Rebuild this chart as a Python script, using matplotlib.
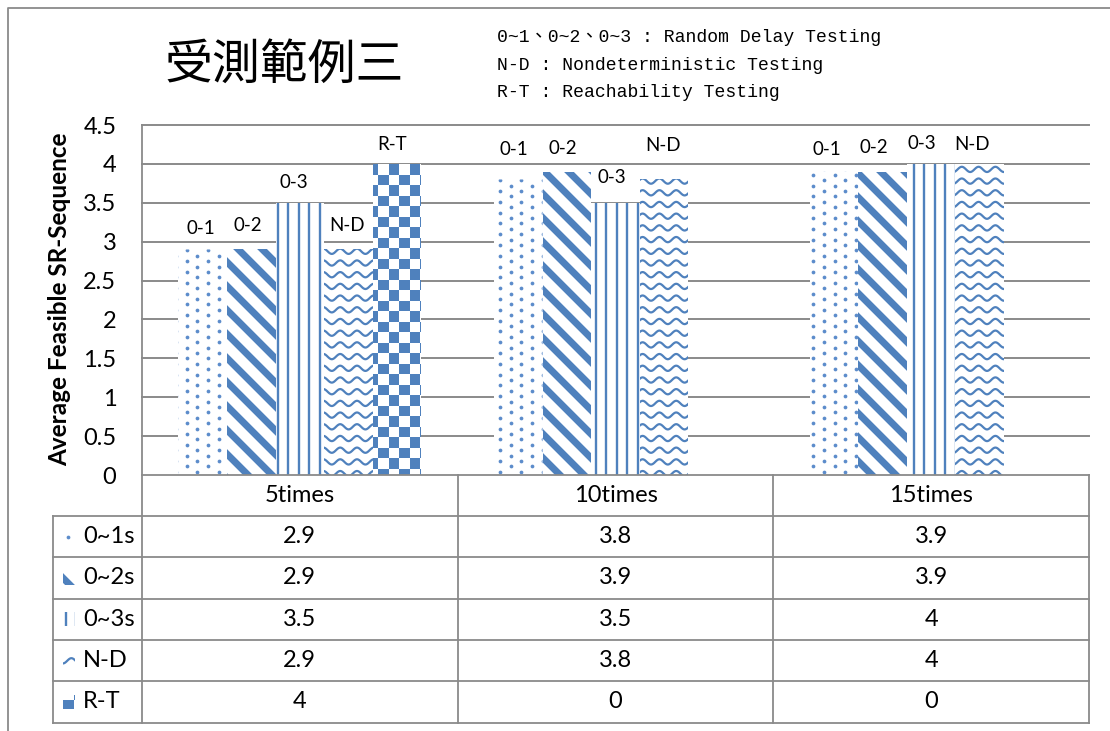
import numpy as np
import matplotlib
matplotlib.use("Agg")
import matplotlib.pyplot as plt
from matplotlib.lines import Line2D
from matplotlib.collections import LineCollection, PolyCollection
from matplotlib.patches import Rectangle
from matplotlib.transforms import Affine2D, IdentityTransform, Bbox

# ---------------- data ----------------
groups = ["5times", "10times", "15times"]
series_names = ["0~1s", "0~2s", "0~3s", "N-D", "R-T"]
bar_tags = ["0-1", "0-2", "0-3", "N-D", "R-T"]
delay_0_1 = [2.9, 3.8, 3.9]
delay_0_2 = [2.9, 3.9, 3.9]
delay_0_3 = [3.5, 3.5, 4]
nondeterministic = [2.9, 3.8, 4]
reachability = [4, 0, 0]
y_ticks = [0, 0.5, 1, 1.5, 2, 2.5, 3, 3.5, 4, 4.5]
title_text = "受測範例三"
note_lines = ["0~1、0~2、0~3 : Random Delay Testing",
              "N-D : Nondeterministic Testing",
              "R-T : Reachability Testing"]
y_label = "Average Feasible SR-Sequence"

series_values = [delay_0_1, delay_0_2, delay_0_3, nondeterministic, reachability]

# ---------------- styling ----------------
W, H = 1110, 731
BLUE = "#4F81BD"
DOT = "#5C8CCB"
GRAY = "#8A8A8A"
FONT = ["Lato", "DejaVu Sans"]
patterns = ["dots", "diag", "vlines", "wave", "checker"]
# label offsets above each bar top (pixels: dx, dy)
tag_offsets = [
    [(-2, 21), (-4, 30), (-7, 22)],
    [(-3, 24), (-4, 23), (-9, 24)],
    [(-6, 20), (-4, 25), (-9, 20)],
    [(-1, 24), (-1, 34), (-8, 19)],
    [(-5, 19), None, None],
]

plt.rcParams["font.family"] = FONT
fig = plt.figure(figsize=(W / 100, H / 100), dpi=100)
fig.patch.set_facecolor("white")

# transform: pixel coordinates measured from the top-left corner
TL = Affine2D().scale(1, -1).translate(0, H)

ax_left, ax_right, ax_top, ax_bottom = 142, 1089, 125, 475
ax = fig.add_axes([ax_left / W, (H - ax_bottom) / H,
                   (ax_right - ax_left) / W, (ax_bottom - ax_top) / H])
ax.set_xlim(0, len(groups))
ax.set_ylim(0, 4.5)
ax.set_autoscale_on(False)
for s in ax.spines.values():
    s.set_visible(False)
ax.set_xticks([])
ax.set_yticks(y_ticks)
ax.set_yticklabels([f"{t:g}" for t in y_ticks])
ax.tick_params(axis="y", length=0, pad=18.5, labelsize=17)
ax.patch.set_alpha(0)

for t in y_ticks[1:]:
    ax.axhline(t, color=GRAY, lw=1.4, zorder=0.5, clip_on=False)


def pattern_artists(kind, bb):
    x0, y0, x1, y1 = bb.x0, bb.y0, bb.x1, bb.y1
    arts = []
    if kind == "dots":
        step = 10.8
        xs, ys = [], []
        for k in range(int(np.floor(x0 / step)) - 1, int(np.ceil(x1 / step)) + 2):
            off = (k % 2) * step / 2
            for m in range(int(np.floor(y0 / step)) - 1, int(np.ceil(y1 / step)) + 2):
                xs.append(k * step + 3)
                ys.append(m * step + off)
        arts.append(Line2D(xs, ys, ls="none", marker="o", ms=2.7,
                           mfc=DOT, mec="none"))
    elif kind == "diag":
        per = 24.0
        segs = []
        c = np.floor((x0 + y0) / per) * per - per
        while c < x1 + y1 + per:
            segs.append([(c - y1 - 20, y1 + 20), (c - y0 + 20, y0 - 20)])
            c += per
        arts.append(LineCollection(segs, colors=BLUE, linewidths=5.0,
                                   capstyle="butt"))
    elif kind == "vlines":
        per = 10.6
        segs = []
        x = np.floor(x0 / per) * per + 2
        while x < x1 + per:
            segs.append([(x, y0 - 5), (x, y1 + 5)])
            x += per
        arts.append(LineCollection(segs, colors=BLUE, linewidths=1.7,
                                   capstyle="butt"))
    elif kind == "wave":
        per_x, per_y, amp = 16.8, 11.7, 2.6
        xs = np.linspace(x0 - 5, x1 + 5, 200)
        segs = []
        base = np.floor(y0 / per_y) * per_y - per_y
        while base < y1 + per_y:
            ys = base + amp * np.sin(2 * np.pi * xs / per_x)
            segs.append(np.column_stack([xs, ys]))
            base += per_y
        arts.append(LineCollection(segs, colors=BLUE, linewidths=1.6))
    elif kind == "checker":
        sq = 10.5
        polys = []
        for i in range(int(np.floor(x0 / sq)) - 1, int(np.ceil(x1 / sq)) + 1):
            for j in range(int(np.floor(y0 / sq)) - 1, int(np.ceil(y1 / sq)) + 1):
                if (i + j) % 2 == 0:
                    xa, ya = i * sq, j * sq
                    polys.append([(xa, ya), (xa + sq, ya), (xa + sq, ya + sq), (xa, ya + sq)])
        arts.append(PolyCollection(polys, facecolors=BLUE, edgecolors="none"))
    return arts


# ---------------- bars ----------------
n_series = len(series_values)
bar_w = 0.154
centers = np.arange(len(groups)) + 0.5
for i, vals in enumerate(series_values):
    xpos = centers + (i - (n_series - 1) / 2) * bar_w
    bars = ax.bar(xpos, vals, width=bar_w, facecolor="white",
                  edgecolor="none", zorder=2)
    for g, rect in enumerate(bars):
        if vals[g] <= 0:
            continue
        bb = rect.get_window_extent()
        for art in pattern_artists(patterns[i], bb):
            art.set_transform(IdentityTransform())
            art.set_zorder(3)
            ax.add_artist(art)
            art.set_clip_path(rect.get_path(), rect.get_transform())
        off = tag_offsets[i][g]
        if off is not None:
            ax.annotate(bar_tags[i], xy=(xpos[g], vals[g]), xytext=off,
                        textcoords="offset pixels", ha="center", va="center",
                        fontsize=13.5, zorder=5)

# ---------------- titles ----------------
fig.text(284, 65, title_text, transform=TL, ha="center", va="center",
         fontsize=34.5, family=["Noto Sans CJK TC", "DejaVu Sans"])
for k, line in enumerate(note_lines):
    fig.text(497, 42 + 27.5 * k, line, transform=TL, ha="left", va="baseline",
             fontsize=13.1, family=["Liberation Mono", "Noto Sans CJK TC"])
fig.text(60, 299, y_label, transform=TL, rotation=90, ha="center", va="center",
         fontsize=17.5, fontweight="bold")

# ---------------- outer frame ----------------
fig.add_artist(Line2D([8, 8, W + 5], [H + 5, 8, 8], transform=TL,
                      color=GRAY, lw=1.3))

# ---------------- data table ----------------
col_x = [ax_left, 457.7, 773.3, ax_right]
row_y = [475, 516, 557.3, 598.6, 640, 681.3, 722.6]
lab_left = 52.5
lw_t = 1.3


def tline(xs, ys):
    fig.add_artist(Line2D(xs, ys, transform=TL, color=GRAY, lw=lw_t,
                          solid_capstyle="projecting"))


tline([ax_left, ax_left], [ax_top, row_y[-1]])
tline([ax_left, ax_right], [row_y[0], row_y[0]])
for y in row_y[1:]:
    tline([lab_left, ax_right], [y, y])
tline([lab_left, lab_left], [row_y[1], row_y[-1]])
for x in col_x[1:]:
    tline([x, x], [row_y[0], row_y[-1]])

for g, name in enumerate(groups):
    cx = (col_x[g] + col_x[g + 1]) / 2
    fig.text(cx, (row_y[0] + row_y[1]) / 2, name, transform=TL,
             ha="center", va="center", fontsize=17)

for i, (label, vals) in enumerate(zip(series_names, series_values)):
    cy = (row_y[i + 1] + row_y[i + 2]) / 2
    fig.text(83, cy, label, transform=TL, ha="left", va="center", fontsize=17)
    # legend swatch
    sw = Rectangle((63, cy - 7), 12, 14, transform=TL, facecolor="white",
                   edgecolor="none")
    fig.add_artist(sw)
    bb = Bbox.from_extents(63, H - cy - 7, 75, H - cy + 7)
    for art in pattern_artists(patterns[i], bb):
        art.set_transform(IdentityTransform())
        fig.add_artist(art)
        art.set_clip_path(sw.get_path(), sw.get_transform())
    for g, v in enumerate(vals):
        cx = (col_x[g] + col_x[g + 1]) / 2
        fig.text(cx, cy, f"{v:g}", transform=TL, ha="center", va="center",
                 fontsize=17)

fig.savefig("out.png", dpi=100, facecolor="white")
